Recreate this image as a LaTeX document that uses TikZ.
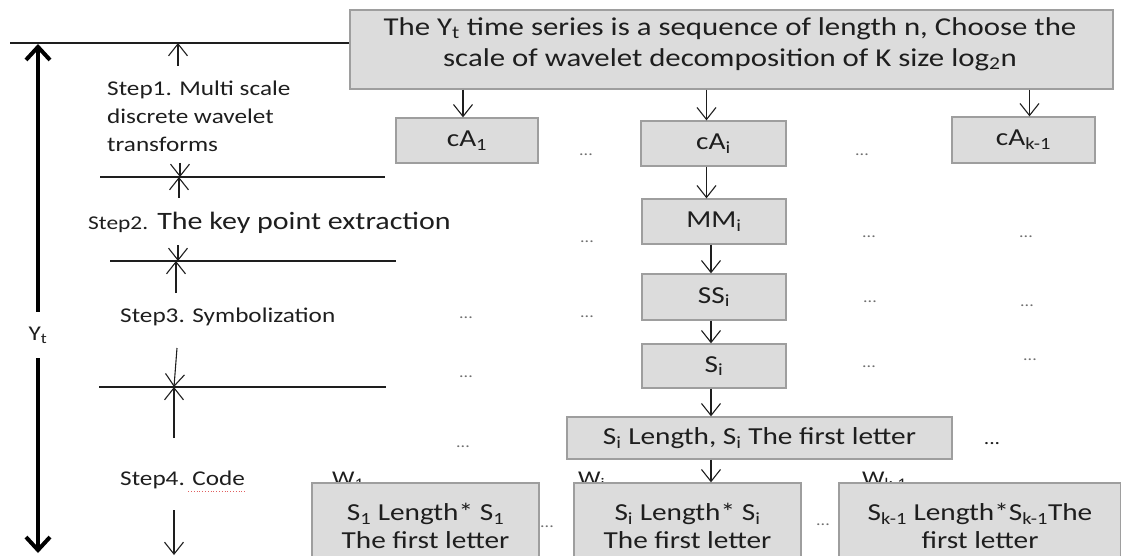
\documentclass[tikz,border=0pt]{standalone}
\usepackage{fontspec}
\setmainfont{Carlito}[FakeStretch=1.2]
\usetikzlibrary{arrows.meta}
\definecolor{boxfill}{HTML}{DCDCDC}
\definecolor{boxline}{HTML}{9E9E9E}
\definecolor{ink}{HTML}{1E1E1E}
\definecolor{dotcol}{HTML}{6E6E6E}
\definecolor{spellred}{HTML}{E06060}
\tikzset{
  arr/.style={draw=ink, line width=1.1pt, -{Straight Barb[length=12pt,width=19pt]}},
  bigarr/.style={draw=black, line width=4pt, -{Straight Barb[length=13pt,width=24pt]}},
  box/.style={draw=boxline, fill=boxfill, line width=1.3pt, inner sep=0pt, align=center, text=ink, font=\fontsize{24.4}{28}\selectfont},
  steptext/.style={text=ink, font=\fontsize{21}{28}\selectfont, inner sep=0pt, anchor=west, align=left},
  wlabel/.style={text=ink, font=\fontsize{21}{24}\selectfont, inner sep=0pt, anchor=base west},
  dots/.style={text=dotcol, font=\fontsize{15}{15}\selectfont, inner sep=0pt},
  rule/.style={draw=ink, line width=1.1pt},
}
\begin{document}
\begin{tikzpicture}[x=1pt,y=-1pt]
\useasboundingbox (0,0) rectangle (1121,556);
\clip (0,0) rectangle (1121,556);

% ---- top box
\node[box, minimum width=763, minimum height=79] (top) at (731.5,49.5) {};
\node[text=ink, font=\fontsize{25.7}{31}\selectfont, align=center, inner sep=0pt] (toptext) at (730,44)
  {The Y\textsubscript{t} time series is a sequence of length n, Choose the\\
   scale of wavelet decomposition of K size log\textsubscript{2}n};

% ---- cA row
\node[box, minimum width=142, minimum height=45] (ca1) at (467,140.5) {cA\textsubscript{1}};
\node[box, minimum width=145, minimum height=45] (cai) at (713.5,143.5) {cA\textsubscript{i}};
\node[box, minimum width=143, minimum height=46] (cak) at (1023.5,140) {cA\textsubscript{k-1}};

% ---- middle column
\node[box, minimum width=144, minimum height=45] (mm) at (714,221.5) {MM\textsubscript{i}};
\node[box, minimum width=144, minimum height=46] (ss) at (714,297) {SS\textsubscript{i}};
\node[box, minimum width=144, minimum height=44] (si) at (714,366) {S\textsubscript{i}};
\node[box, minimum width=385, minimum height=42] (sil) at (759.5,438) {S\textsubscript{i} Length, S\textsubscript{i} The first letter};

% ---- W labels (partly covered by the boxes)
\node[wlabel] (w1) at (332,485) {W\textsubscript{1}};
\node[wlabel] (wi) at (578,485) {W\textsubscript{i}};
\node[wlabel] (wk) at (862,485) {W\textsubscript{k-1}};

% ---- bottom boxes
\node[box, minimum width=227, minimum height=86] (b1) at (425.5,526) {S\textsubscript{1} Length* S\textsubscript{1}\\The first letter};
\node[box, minimum width=227, minimum height=86] (bi) at (687.5,526) {S\textsubscript{i} Length* S\textsubscript{i}\\The first letter};
\node[box, minimum width=282, minimum height=86] (bk) at (980,526) {S\textsubscript{k-1} Length*S\textsubscript{k-1}The\\first letter};

% ---- connectors in the diagram
\draw[arr] ([xshift=-4pt]ca1.north |- top.south) -- ([xshift=-4pt]ca1.north);
\draw[arr] ([xshift=-7pt]cai.north |- top.south) -- ([xshift=-7pt]cai.north);
\draw[arr] ([xshift=6pt]cak.north |- top.south) -- ([xshift=6pt]cak.north);
\draw[arr] ([xshift=-7pt]cai.south) -- ([xshift=-7pt]cai.south |- mm.north);
\draw[arr] ([xshift=-3pt]mm.south) -- ([xshift=-3pt]mm.south |- ss.north);
\draw[arr] ([xshift=-3pt]ss.south) -- ([xshift=-3pt]ss.south |- si.north);
\draw[arr] ([xshift=-3pt]si.south) -- ([xshift=-3pt]si.south |- sil.north);
\draw[arr] ([xshift=-3pt]si.south |- sil.south) -- ([xshift=-3pt]si.south |- bi.north);

% ---- dots
\node[dots] (d1) at (586,155) {...};
\node[dots] (d2) at (862,155) {...};
\node[dots] (d3) at (587,242) {...};
\node[dots] (d4) at (869,237) {...};
\node[dots] (d5) at (1026,237) {...};
\node[dots] (d6) at (466,318) {...};
\node[dots] (d7) at (587,317) {...};
\node[dots] (d8) at (870,302) {...};
\node[dots] (d9) at (1027,306) {...};
\node[dots] (d10) at (466,377) {...};
\node[dots] (d11) at (869,367) {...};
\node[dots] (d12) at (1030,360) {...};
\node[dots] (d13) at (463,447) {...};
\node[dots] (d14) at (547,527) {...};
\node[dots] (d15) at (823,525) {...};
\node[text=ink, font=\fontsize{18}{18}\selectfont, inner sep=0pt] (d16) at (992,444) {...};

% ---- left: Y_t span
\node[text=ink, font=\fontsize{21}{24}\selectfont, inner sep=0pt, minimum height=46] (yt) at (38,335) {Y\textsubscript{t}};
\coordinate (ytop) at (38,44);
\coordinate (ybot) at (38,553);
\draw[bigarr] (yt.north) -- (ytop);
\draw[bigarr] (yt.south) -- (ybot);

% ---- left: step rules
\coordinate (r1) at (10,43);
\draw[rule] (r1) -- (r1 -| top.west);
\coordinate (r2a) at (100,177); \coordinate (r2b) at (385,177);
\draw[rule] (r2a) -- (r2b);
\coordinate (r3a) at (110,261); \coordinate (r3b) at (396,261);
\draw[rule] (r3a) -- (r3b);
\coordinate (r4a) at (99,387); \coordinate (r4b) at (386,387);
\draw[rule] (r4a) -- (r4b);

% ---- left: step arrows
\coordinate (a1s) at (178,66);  \coordinate (a1e) at (178,43);
\coordinate (a2s) at (180,163); \coordinate (a2e) at (180,177);
\coordinate (a3s) at (179,198); \coordinate (a3e) at (179,177);
\coordinate (a4s) at (178,245); \coordinate (a4e) at (178,261);
\coordinate (a5s) at (176,293); \coordinate (a5e) at (176,261);
\coordinate (a6s) at (177,348); \coordinate (a6e) at (174,387);
\coordinate (a7s) at (174,438); \coordinate (a7e) at (174,387);
\coordinate (a8s) at (174,510); \coordinate (a8e) at (174,555);
\foreach \s/\e in {a1s/a1e,a2s/a2e,a3s/a3e,a4s/a4e,a5s/a5e,a6s/a6e,a7s/a7e,a8s/a8e}
  \draw[arr] (\s) -- (\e);

% ---- left: step texts
\node[steptext] (st1) at (107,116) {Step1. Multi scale\\discrete wavelet\\transforms};
\node[steptext, font=\fontsize{25}{28}\selectfont] (st2) at (88,223) {{\fontsize{19.5}{20}\selectfont Step2.} The key point extraction};
\node[steptext] (st3) at (120,317) {Step3. Symbolization};
\node[steptext] (st4) at (120,480) {Step4. Code};
\draw[spellred, line width=0.8pt, dotted] ([xshift=-57pt,yshift=-11pt]st4.east) -- ([yshift=-11pt]st4.east);
\end{tikzpicture}
\end{document}
